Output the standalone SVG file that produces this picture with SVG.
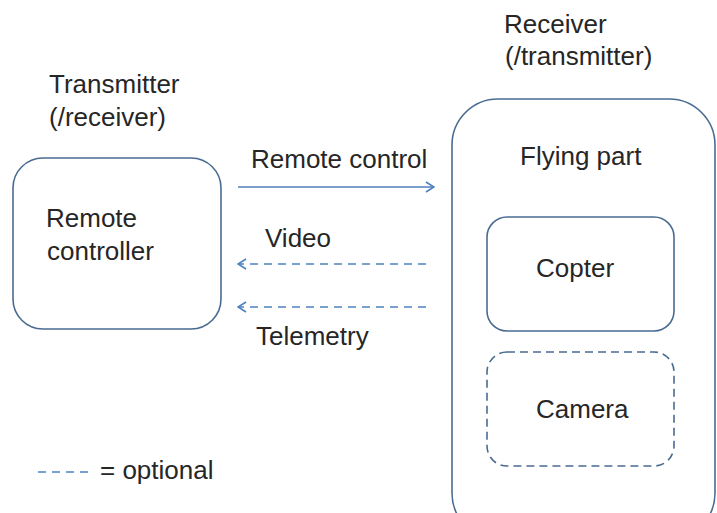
<svg xmlns="http://www.w3.org/2000/svg" width="717" height="513" viewBox="0 0 717 513">
<defs>
<style>
text{font-family:"Liberation Sans",Arial,sans-serif;font-size:26px;fill:#262626}
.box{fill:none;stroke:#4a6b91;stroke-width:1.6}
.dbox{fill:none;stroke:#4a6b91;stroke-width:1.6;stroke-dasharray:8 5}
.arr{fill:none;stroke:#4f81bd;stroke-width:1.6}
.dash{stroke-dasharray:8 6}
</style>
<marker id="ah" viewBox="0 0 12 12" refX="11" refY="6" markerWidth="12" markerHeight="12" markerUnits="userSpaceOnUse" orient="auto">
<polyline points="3,1 11,6 3,11" fill="none" stroke="#4f81bd" stroke-width="1.6"/>
</marker>
</defs>
<rect width="717" height="513" fill="#ffffff"/>
<g id="transmitter-label">
<text x="49" y="93">Transmitter</text>
<text x="49" y="126">(/receiver)</text>
</g>
<g id="remote-controller">
<rect class="box" x="13" y="158" width="208" height="171" rx="30"/>
<text x="46" y="227">Remote</text>
<text x="47" y="260">controller</text>
</g>
<g id="receiver-label">
<text x="504" y="33">Receiver</text>
<text x="505" y="65">(/transmitter)</text>
</g>
<g id="flying-part">
<rect class="box" x="452" y="99" width="263" height="440" rx="46"/>
<text x="520" y="165">Flying part</text>
</g>
<g id="copter">
<rect class="box" x="487" y="217" width="187" height="114" rx="20"/>
<text x="536" y="277">Copter</text>
</g>
<g id="camera">
<rect class="dbox" x="487" y="352" width="187" height="114" rx="20"/>
<text x="536" y="418">Camera</text>
</g>
<g id="connectors">
<line class="arr" x1="238" y1="187" x2="434" y2="187" marker-end="url(#ah)"/>
<line class="arr dash" x1="426" y1="264" x2="238" y2="264" marker-end="url(#ah)"/>
<line class="arr dash" x1="426" y1="307" x2="238" y2="307" marker-end="url(#ah)"/>
<text x="251" y="168">Remote control</text>
<text x="265" y="247">Video</text>
<text x="256" y="345">Telemetry</text>
</g>
<g id="legend">
<line class="arr" x1="38" y1="472" x2="92" y2="472" stroke-dasharray="8 6"/>
<text x="100" y="479">= optional</text>
</g>
</svg>
